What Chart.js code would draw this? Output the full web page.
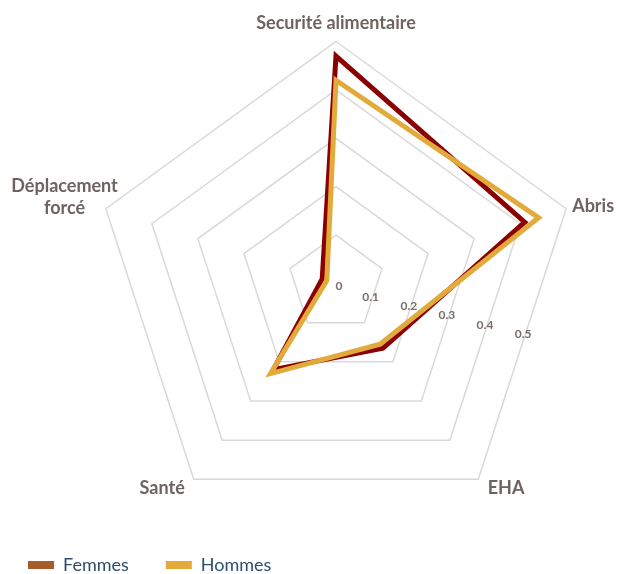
<!DOCTYPE html>
<html>
<head>
<meta charset="utf-8">
<script src="https://cdn.jsdelivr.net/npm/chart.js@4/dist/chart.umd.min.js"></script>
<style>
  html, body { margin: 0; padding: 0; background: #fff; }
  #wrap { width: 617px; height: 574px; position: relative; }
</style>
</head>
<body>
<div id="wrap"><canvas id="myChart"></canvas></div>
<script>
var categories = ["Securité alimentaire", "Abris", "EHA", "Santé", ["Déplacement", "forcé"]];
var femmes = [0.47, 0.41, 0.165, 0.22, 0.03];
var hommes = [0.42, 0.44, 0.155, 0.23, 0.02];
var tickValues = [0, 0.1, 0.2, 0.3, 0.4, 0.5];

// where the radar sits and small nudges for the category labels
var radarBox = { x: 336, y: 283.5, r: 242 };
var labelNudge = [[0, -8], [6, 8.6], [9.5, -1.6], [-9, -1.6], [-41.3, 10]];

function placeRadar(scale) {
  var oldR = scale.drawingArea, oldX = scale.xCenter, oldY = scale.yCenter;
  var items = scale._pointLabelItems || [];
  items.forEach(function(item, i) {
    var a = scale.getIndexAngle(i) - Math.PI / 2;
    var dx = radarBox.x - oldX + Math.cos(a) * (radarBox.r - oldR) + labelNudge[i][0];
    var dy = radarBox.y - oldY + Math.sin(a) * (radarBox.r - oldR) + labelNudge[i][1];
    item.x += dx; item.left += dx; item.right += dx;
    item.y += dy; item.top += dy; item.bottom += dy;
    if (i === 4) item.textAlign = "center";
  });
  scale.drawingArea = radarBox.r;
  scale.xCenter = radarBox.x;
  scale.yCenter = radarBox.y;
}

// tick labels sit along a slanted line between Abris and EHA, like the original
var tickLabelPlugin = {
  id: "tickLabels",
  afterDraw: function(chart) {
    var scale = chart.scales.r;
    var ctx = chart.ctx;
    ctx.save();
    ctx.font = "bold 12px Lato";
    ctx.fillStyle = "#7b6d68";
    ctx.textAlign = "center";
    ctx.textBaseline = "middle";
    tickValues.forEach(function(v) {
      var d = scale.getDistanceFromCenterForValue(v);
      var x, y;
      if (v === 0) {
        x = scale.xCenter + 3;
        y = scale.yCenter + 3;
      } else {
        x = scale.xCenter - 3.4 + 0.787 * d;
        y = scale.yCenter + 3.8 + 0.194 * d;
      }
      ctx.fillText(String(v), x, y);
    });
    ctx.restore();
  }
};

document.addEventListener("DOMContentLoaded", function() {
  var ctx = document.getElementById("myChart");

  var myChart = new Chart(ctx, {
    type: "radar",
    data: {
      labels: categories,
      datasets: [
        {
          label: "Femmes",
          data: femmes,
          borderColor: "#8b0000",
          backgroundColor: "#a85b2b",
          borderWidth: 5,
          borderJoinStyle: "miter",
          pointRadius: 0,
          fill: false,
          order: 1
        },
        {
          label: "Hommes",
          data: hommes,
          borderColor: "#e2a93b",
          backgroundColor: "#e2a93b",
          borderWidth: 5,
          borderJoinStyle: "miter",
          pointRadius: 0,
          fill: false,
          order: 0
        }
      ]
    },
    options: {
      responsive: true,
      maintainAspectRatio: false,
      animation: false,
      layout: {
        padding: { left: -9, right: 0, top: 0, bottom: -10 }
      },
      scales: {
        r: {
          min: 0,
          max: 0.5,
          afterFit: placeRadar,
          ticks: { stepSize: 0.1, display: false },
          grid: { color: "#d9d9d9", lineWidth: 1.5 },
          angleLines: { display: false },
          pointLabels: {
            font: { family: "Lato", size: 18, weight: "bold" },
            color: "#6f6360",
            padding: 0
          }
        }
      },
      plugins: {
        tooltip: { enabled: false },
        legend: {
          position: "bottom",
          align: "start",
          labels: {
            boxWidth: 26,
            boxHeight: 8,
            padding: 37,
            color: "#2e4d6e",
            font: { family: "Lato", size: 18 },
            sort: function(a, b) { return a.datasetIndex - b.datasetIndex; },
            generateLabels: function(chart) {
              var items = Chart.defaults.plugins.legend.labels.generateLabels(chart);
              items.forEach(function(it) {
                var ds = chart.data.datasets[it.datasetIndex];
                it.fillStyle = ds.backgroundColor;
                it.strokeStyle = ds.backgroundColor;
                it.lineWidth = 0;
              });
              return items;
            }
          }
        }
      }
    },
    plugins: [tickLabelPlugin]
  });
});
</script>
</body>
</html>
